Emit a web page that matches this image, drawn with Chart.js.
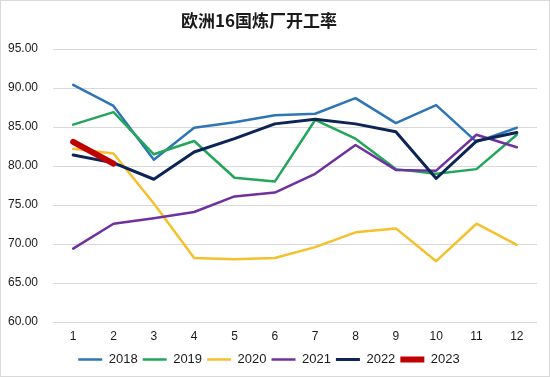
<!DOCTYPE html>
<html>
<head>
<meta charset="utf-8">
<script src="https://cdn.jsdelivr.net/npm/chart.js@4"></script>
<style>
  html, body { margin: 0; padding: 0; background: #fff; }
  #wrap { width: 550px; height: 377px; box-sizing: border-box; border: 1px solid #d9d9d9; }
</style>
</head>
<body>
<div id="wrap"><canvas id="lineChart" width="548" height="375"></canvas></div>
<script>
// 月份
const months = ['1', '2', '3', '4', '5', '6', '7', '8', '9', '10', '11', '12'];

// 各年开工率 (%)
const y2018 = [90.4, 87.7, 80.8, 84.9, 85.6, 86.5, 86.7, 88.7, 85.5, 87.8, 83.1, 84.9];
const y2019 = [85.3, 86.9, 81.5, 83.2, 78.5, 78.0, 85.9, 83.5, 79.6, 79.0, 79.6, 84.0];
const y2020 = [82.2, 81.6, 75.2, 68.2, 68.05, 68.2, 69.6, 71.5, 72.0, 67.8, 72.6, 69.9];
const y2021 = [69.4, 72.6, 73.3, 74.1, 76.1, 76.6, 79.0, 82.7, 79.5, 79.4, 84.0, 82.4];
const y2022 = [81.4, 80.4, 78.3, 81.8, 83.5, 85.4, 86.0, 85.4, 84.4, 78.4, 83.2, 84.3];
const y2023 = [83.1, 80.3];

const yTicks = [60, 65, 70, 75, 80, 85, 90, 95];

const FONT = '"Liberation Sans", Arial, sans-serif';

// 后面的年份画在上层
function line(label, data, color, width, idx) {
  return {
    label: label,
    data: data,
    borderColor: color,
    backgroundColor: color,
    borderWidth: width,
    borderCapStyle: 'round',
    borderJoinStyle: 'round',
    pointRadius: 0,
    pointHoverRadius: 0,
    tension: 0,
    pointStyle: 'line',
    order: -idx
  };
}

// 标题略偏左
const titleShift = {
  id: 'titleShift',
  afterLayout(chart) {
    if (chart.titleBlock) chart.titleBlock.left -= 20;
  }
};

const ctx = document.getElementById('lineChart').getContext('2d');

new Chart(ctx, {
  type: 'line',
  data: {
    labels: months,
    datasets: [
      line('2018', y2018, '#2E75B6', 2.5, 0),
      line('2019', y2019, '#22A65A', 2.5, 1),
      line('2020', y2020, '#F5C02C', 2.5, 2),
      line('2021', y2021, '#7030A0', 2.5, 3),
      line('2022', y2022, '#0D2456', 3, 4),
      line('2023', y2023, '#C00000', 6, 5)
    ]
  },
  plugins: [titleShift],
  options: {
    responsive: false,
    animation: false,
    layout: { padding: { left: 0, right: 12, top: 0, bottom: 0 } },
    plugins: {
      title: {
        display: true,
        text: '欧洲16国炼厂开工率',
        color: '#1a1a1a',
        font: { family: '"Noto Sans CJK SC", sans-serif', size: 17, weight: 'bold' },
        padding: { top: 9, bottom: 18.6 }
      },
      legend: {
        position: 'bottom',
        labels: {
          usePointStyle: true,
          pointStyleWidth: 24,
          boxHeight: 12,
          color: '#1a1a1a',
          padding: 5,
          font: { family: FONT, size: 13 },
          sort: (a, b) => a.datasetIndex - b.datasetIndex
        }
      },
      tooltip: { enabled: false }
    },
    scales: {
      x: {
        offset: true,
        afterFit: (axis) => { axis.height = 26; },
        grid: { display: false, drawTicks: false },
        border: { display: false },
        ticks: {
          color: '#1a1a1a',
          padding: 7,
          font: { family: FONT, size: 12 }
        }
      },
      y: {
        min: 60,
        max: 95,
        afterFit: (axis) => { axis.width = 52; },
        afterBuildTicks: (axis) => { axis.ticks = yTicks.map(v => ({ value: v })); },
        grid: { color: '#d9d9d9', lineWidth: 1, drawTicks: false },
        border: { display: false },
        ticks: {
          color: '#1a1a1a',
          padding: 15,
          font: { family: FONT, size: 12 },
          callback: (v) => Number(v).toFixed(2)
        }
      }
    }
  }
});
</script>
</body>
</html>
